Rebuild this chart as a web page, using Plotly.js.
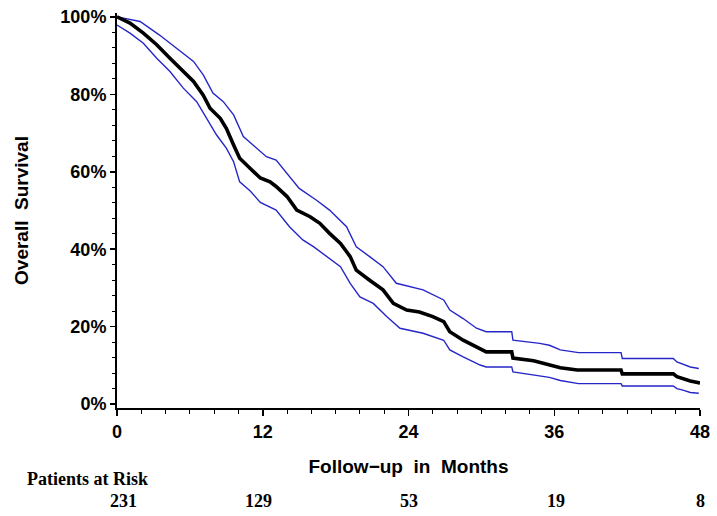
<!DOCTYPE html>
<html>
<head>
<meta charset="utf-8">
<script src="https://cdn.plot.ly/plotly-3.0.1.min.js"></script>
<style>html,body{margin:0;padding:0;background:#fff;}</style>
</head>
<body>
<div id="chart" style="width:717px;height:516px;"></div>
<script>
// Kaplan-Meier overall survival (%)
const survTime = [0,1.07,2.17,3.27,4.36,5.46,6.3,7.1,7.66,8.5,9.0,9.6,10.1,10.95,11.8,12.6,13.1,14.0,14.8,15.9,16.7,17.5,18.4,19.2,19.7,20.8,21.9,22.75,23.85,24.9,26.0,26.9,27.4,28.5,29.6,30.4,32.5,32.6,34.3,35.7,36.5,37.9,41.5,41.6,45.8,46.1,46.6,47.2,47.9,48];
const survVal  = [100,98.4,95.8,92.8,89.3,85.9,83.3,79.8,76.4,73.8,71.2,66.9,63.5,60.9,58.4,57.4,56.2,53.6,50.1,48.4,46.7,44.1,41.5,38.1,34.6,32.0,29.5,26.0,24.3,23.8,22.6,21.3,18.7,16.5,14.8,13.5,13.5,11.9,11.2,10.1,9.4,8.8,8.8,7.8,7.8,7.1,6.5,6.0,5.5,5.4];

const upperTime = [0,1.9,3.5,4.9,6.3,7.1,7.9,8.75,9.6,10.4,11.2,12.3,13.1,14.2,15.0,16.4,17.5,18.9,19.7,20.8,21.9,23.0,24.7,25.2,26.9,27.4,28.5,29.6,30.4,32.5,32.6,34.8,35.6,36.5,38.0,41.5,41.6,45.8,46.1,46.6,47.2,47.9];
const upperVal  = [100,98.8,95.3,91.9,88.5,85.0,80.3,78.1,74.7,69.1,66.9,63.9,63.0,58.7,55.7,52.7,50.1,45.8,40.6,38.1,35.5,31.2,29.9,29.5,26.9,24.3,22.1,19.6,18.7,18.7,16.5,15.7,15.2,14.0,13.3,13.3,11.8,11.8,10.9,10.3,9.6,9.2];

const lowerTime = [0,1.07,2.17,3.27,4.36,5.46,6.56,7.4,8.2,9.0,9.6,10.1,10.95,11.8,13.1,14.2,15.3,16.2,17.3,18.4,19.2,20.0,21.1,22.2,23.3,25.2,26.9,27.4,28.5,29.9,30.4,32.5,32.6,34.8,35.6,36.5,38.0,41.5,41.6,45.8,46.1,46.6,47.2,47.9];
const lowerVal  = [97.9,95.8,93.2,89.3,85.9,81.6,78.1,73.8,69.5,66.1,62.6,57.4,55.1,52.1,50.1,45.8,42.4,40.6,38.1,35.5,31.2,27.7,26.0,22.6,19.6,18.3,16.5,14.0,12.2,10.1,9.6,9.6,8.3,7.2,6.9,6.1,5.3,5.3,4.7,4.7,4.0,3.6,3.0,2.8];

// Patients at risk
const riskTimes  = [0,12,24,36,48];
const riskCounts = ["231","129","53","19","8"];
const riskShift  = [6,-4,0,2,0];

const xTicks = [0,12,24,36,48];
const yTicks = [0,20,40,60,80,100];

const blue = '#2626c8';
const traces = [
  {x: upperTime, y: upperVal, mode:'lines', line:{color:blue, width:1.4}, hoverinfo:'skip'},
  {x: lowerTime, y: lowerVal, mode:'lines', line:{color:blue, width:1.4}, hoverinfo:'skip'},
  {x: survTime, y: survVal, mode:'lines', line:{color:'#000', width:3.6}, hoverinfo:'skip'}
];

const sans = 'Liberation Sans, Arial, Helvetica, sans-serif';
const serif = 'Liberation Serif, Times New Roman, serif';

const annotations = [
  {xref:'paper', yref:'paper', x:(25-117)/583, y:-71/395, xanchor:'left', yanchor:'middle',
   text:'Patients at Risk', showarrow:false, font:{family:serif, size:18, color:'#000', weight:700}}
];
riskTimes.forEach((t,i)=>{
  annotations.push({xref:'x', yref:'paper', x:t, y:-93/395, xanchor:'center', yanchor:'middle',
    xshift:riskShift[i], text:riskCounts[i], showarrow:false,
    font:{family:serif, size:18, color:'#000', weight:700}});
});

const layout = {
  width:717, height:516, autosize:false,
  margin:{l:117, r:17, t:13, b:108},
  paper_bgcolor:'#fff', plot_bgcolor:'#fff',
  showlegend:false,
  xaxis:{
    range:[0,48], tickvals:xTicks, ticktext:xTicks.map(String),
    ticks:'outside', ticklen:6, tickwidth:1.5, tickcolor:'#000',
    minor:{dtick:2, tick0:0, ticks:'outside', ticklen:4, tickwidth:1, tickcolor:'#000'},
    showline:true, linewidth:2, linecolor:'#000', mirror:false,
    showgrid:false, zeroline:false,
    tickfont:{family:sans, size:18, color:'#000', weight:700},
    title:{text:'Follow\u2212up  in  Months', standoff:19, font:{family:sans, size:19, color:'#000', weight:700}}
  },
  yaxis:{
    range:[-1,101], tickvals:yTicks, ticktext:yTicks.map(v=>v+'%'),
    ticks:'outside', ticklen:5, tickwidth:1.5, tickcolor:'#000',
    minor:{dtick:4, tick0:0, ticks:'outside', ticklen:3, tickwidth:1, tickcolor:'#000'},
    showline:true, linewidth:2, linecolor:'#000',
    showgrid:false, zeroline:false,
    tickfont:{family:sans, size:18, color:'#000', weight:700},
    title:{text:'Overall  Survival', standoff:27, font:{family:sans, size:19, color:'#000', weight:700}}
  },
  annotations: annotations
};

Plotly.newPlot('chart', traces, layout, {displayModeBar:false, staticPlot:true});
</script>
</body>
</html>
